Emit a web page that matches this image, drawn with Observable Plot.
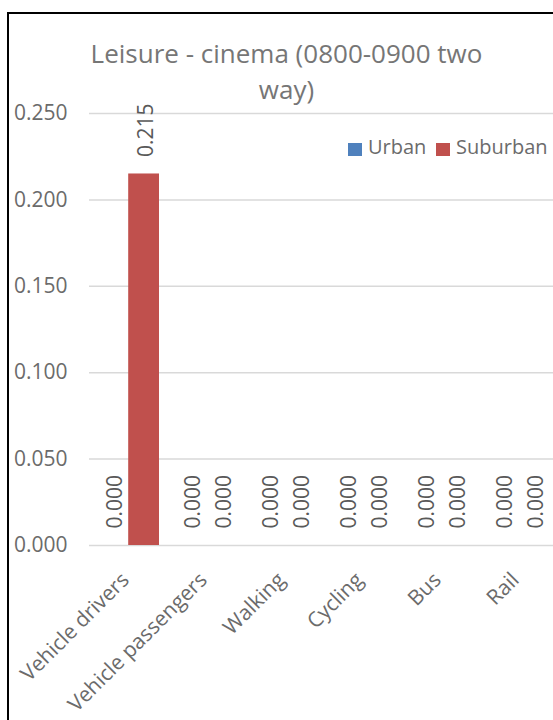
<!DOCTYPE html>
<html><head><meta charset="utf-8">
<script src="https://cdn.jsdelivr.net/npm/d3@7"></script>
<script src="https://cdn.jsdelivr.net/npm/@observablehq/plot@0.6"></script>
<style>
html,body{margin:0;padding:0;overflow:hidden;background:#fff;width:553px;height:720px;}
#wrap{position:relative;width:553px;height:720px;overflow:hidden;font-family:"Open Sans",sans-serif;}
#chart{position:absolute;left:0;top:0;width:553px;height:720px;overflow:hidden;}
#ftop{position:absolute;left:7px;top:12px;width:546px;height:2px;background:#000;}
#fleft{position:absolute;left:7px;top:12px;width:2px;height:708px;background:#000;}
#title{position:absolute;left:86.5px;width:400px;top:35px;text-align:center;font-size:26px;line-height:36px;color:#767676;white-space:nowrap;}
.lg{position:absolute;font-size:20px;line-height:20px;color:#6b6b6b;top:137px;white-space:nowrap;}
.sw{position:absolute;width:14px;height:13px;top:143px;}
</style>
</head><body>
<div id="wrap">
  <div id="chart"></div>
  <div id="title"></div>
  <div id="legend"></div>
  <div id="ftop"></div>
  <div id="fleft"></div>
</div>
<script>
const titleLines = ["Leisure - cinema (0800-0900 two", "way)"];
const categories = ["Vehicle drivers", "Vehicle passengers", "Walking", "Cycling", "Bus", "Rail"];
const seriesNames = ["Urban", "Suburban"];
const seriesColors = ["#4F81BD", "#C0504D"];
const urban = [0.000, 0.000, 0.000, 0.000, 0.000, 0.000];
const suburban = [0.215, 0.000, 0.000, 0.000, 0.000, 0.000];
const yTicks = [0, 0.05, 0.10, 0.15, 0.20, 0.25];

const W = 560, H = 720, ML = 89, MR = 3, MT = 113, MB = 175;
const PI = 0.2, PO = 0.1;
const step = (W - ML - MR) / (categories.length - PI + 2 * PO);
const bw = step * (1 - PI);

const data = [];
categories.forEach((c, i) => {
  data.push({mode: c, series: "Urban", value: urban[i]});
  data.push({mode: c, series: "Suburban", value: suburban[i]});
});
const urbanData = data.filter(d => d.series === "Urban");
const subData = data.filter(d => d.series === "Suburban");
const fmt = d3.format(".3f");

const chart = Plot.plot({
  width: W, height: H,
  marginLeft: ML, marginRight: MR, marginTop: MT, marginBottom: MB,
  style: {fontFamily: "Open Sans", fontSize: "21px", color: "#6b6b6b", background: "transparent", maxWidth: "none", overflow: "hidden"},
  x: {domain: categories, paddingInner: PI, paddingOuter: PO, label: null},
  y: {domain: [0, 0.25], label: null},
  color: {domain: seriesNames, range: seriesColors},
  marks: [
    Plot.ruleY(yTicks, {stroke: "#d9d9d9", strokeWidth: 1.5}),
    Plot.axisY({ticks: yTicks, tickFormat: fmt, tickSize: 0, tickPadding: 22, label: null, fontSize: 21, fill: "#6b6b6b"}),
    Plot.barY(urbanData, {x: "mode", y: "value", fill: "series", insetRight: bw / 2}),
    Plot.barY(subData, {x: "mode", y: "value", fill: "series", insetLeft: bw / 2}),
    Plot.text(urbanData, {x: "mode", y: "value", text: d => fmt(d.value), rotate: -90, textAnchor: "start", lineAnchor: "middle", dy: -17, dx: -bw / 4 + 2, fontSize: 21, fill: "#595959"}),
    Plot.text(subData, {x: "mode", y: "value", text: d => fmt(d.value), rotate: -90, textAnchor: "start", lineAnchor: "middle", dy: -17, dx: bw / 4 + 2, fontSize: 21, fill: "#595959"}),
    Plot.axisX({tickRotate: -45, tickSize: 0, tickPadding: 31, dx: -3, label: null, fontSize: 21, fill: "#6b6b6b"})
  ]
});
document.getElementById("chart").appendChild(chart);

const t = document.getElementById("title");
titleLines.forEach((l, i) => { if (i) t.appendChild(document.createElement("br")); t.appendChild(document.createTextNode(l)); });

const lg = document.getElementById("legend");
const legendPos = [{sw: 348, tx: 368}, {sw: 436, tx: 456}];
seriesNames.forEach((s, i) => {
  const sw = document.createElement("div");
  sw.className = "sw"; sw.style.left = legendPos[i].sw + "px"; sw.style.background = seriesColors[i];
  const tx = document.createElement("div");
  tx.className = "lg"; tx.style.left = legendPos[i].tx + "px"; tx.textContent = s;
  lg.appendChild(sw); lg.appendChild(tx);
});
</script>
</body></html>
